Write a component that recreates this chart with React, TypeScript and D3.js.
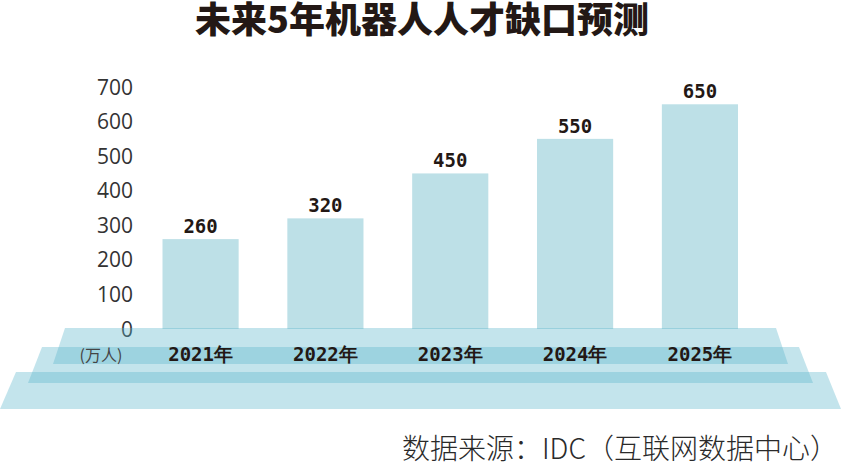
import React from 'react';
import * as d3 from 'd3';

// data (unit: 万人)
const years = ['2021年', '2022年', '2023年', '2024年', '2025年'];
const gap = [260, 320, 450, 550, 650];
const ticks = [0, 100, 200, 300, 400, 500, 600, 700];

const title = '未来5年机器人人才缺口预测';
const source = '数据来源：IDC（互联网数据中心）';
const unit = '(万人)';

const W = 841;
const H = 467;

// stacked "platform" slabs under the bars
const slabs = [
  { top: 328, bottom: 364, l0: 65, r0: 776, l1: 53, r1: 788 },
  { top: 347, bottom: 383, l0: 42, r0: 799, l1: 28, r1: 813 },
  { top: 372, bottom: 409, l0: 16, r0: 826, l1: 0, r1: 841 },
];

const digitFont = '"DejaVu Sans Mono", "Liberation Mono", monospace';
const cjkFont = '"Noto Sans CJK SC", "Noto Sans", sans-serif';

export default function App() {
  const y = d3.scaleLinear().domain([0, 700]).range([329, 87]);
  const x = d3.scaleBand<string>().domain(years).range([162.5, 738]).paddingInner(0.39).paddingOuter(0);

  const slabPath = (s: typeof slabs[number]) => {
    const p = d3.path();
    p.moveTo(s.l0, s.top);
    p.lineTo(s.r0, s.top);
    p.lineTo(s.r1, s.bottom);
    p.lineTo(s.l1, s.bottom);
    p.closePath();
    return p.toString();
  };

  return (
    <svg
      width={W}
      height={H}
      viewBox={`0 0 ${W} ${H}`}
      style={{ position: 'absolute', left: 0, top: 0, background: '#fff' }}
    >
      {/* title */}
      <text x={422} y={33} textAnchor="middle" fontFamily={cjkFont} fontWeight={900} fontSize={36} fill="#231815">
        {title}
      </text>

      {/* y tick labels */}
      {ticks.map((t) => (
        <text
          key={t}
          x={133}
          y={y(t)}
          dy="0.36em"
          textAnchor="end"
          fontFamily='"Open Sans", "Noto Sans", sans-serif'
          fontSize={21}
          fill="#333"
        >
          {t}
        </text>
      ))}

      {/* bars */}
      {years.map((yr, i) => (
        <rect
          key={yr}
          x={x(yr)}
          y={y(gap[i])}
          width={x.bandwidth()}
          height={y(0) - y(gap[i])}
          fill="#bde0e7"
        />
      ))}

      {/* value labels */}
      {years.map((yr, i) => (
        <text
          key={`v-${yr}`}
          x={(x(yr) ?? 0) + x.bandwidth() / 2}
          y={y(gap[i]) - 6}
          textAnchor="middle"
          fontFamily={digitFont}
          fontWeight="bold"
          fontSize={19}
          fill="#231815"
        >
          {gap[i]}
        </text>
      ))}

      {/* platform slabs */}
      {slabs.map((s, i) => (
        <path key={i} d={slabPath(s)} fill="rgb(92,182,203)" fillOpacity={0.37} />
      ))}

      {/* unit */}
      <text x={101} y={361} textAnchor="middle" fontFamily={cjkFont} fontSize={16} fill="#444">
        {unit}
      </text>

      {/* category labels */}
      {years.map((yr) => (
        <text
          key={`c-${yr}`}
          x={(x(yr) ?? 0) + x.bandwidth() / 2}
          y={361}
          textAnchor="middle"
          fontFamily={digitFont}
          fontWeight="bold"
          fontSize={19}
          fill="#231815"
        >
          {yr}
        </text>
      ))}

      {/* source */}
      <text x={838} y={459} textAnchor="end" fontFamily={cjkFont} fontWeight={300} fontSize={28} fill="#2a2a2a">
        {source}
      </text>
    </svg>
  );
}
